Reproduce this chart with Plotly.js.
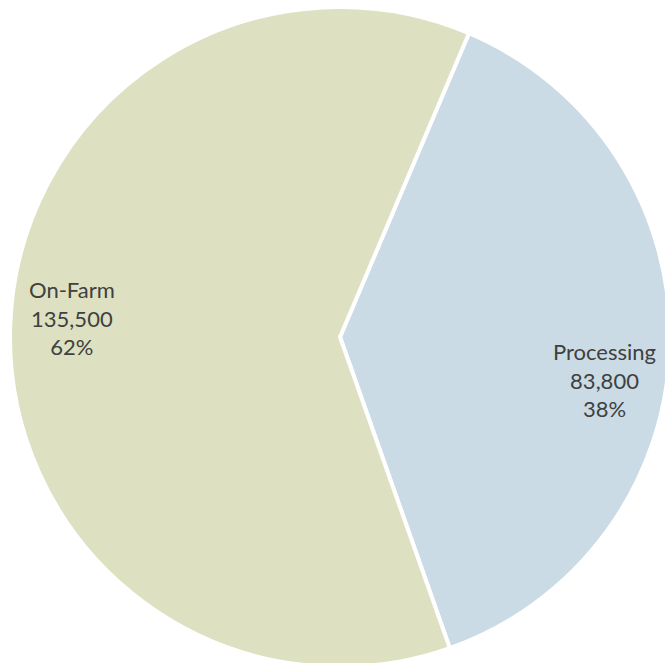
<!DOCTYPE html>
<html>
<head>
<meta charset="utf-8">
<script src="https://cdn.plot.ly/plotly-3.0.1.min.js"></script>
<style>html,body{margin:0;padding:0;background:#fff;overflow:hidden;}</style>
</head>
<body>
<div id="chart"></div>
<script>
const labels = ["Processing", "On-Farm"];
const values = [83800, 135500];
const colors = ["#CADBE5", "#DDE0C1"];
const labelPos = [[0.9, 0.4348], [0.0939, 0.5288]];

const total = values.reduce((a, b) => a + b, 0);
const fmt = v => v.toLocaleString("en-US");
const annotations = labels.map((l, i) => ({
  x: labelPos[i][0], y: labelPos[i][1], xref: "paper", yref: "paper",
  xanchor: "center", yanchor: "middle",
  showarrow: false, align: "center",
  text: l + "<br>" + fmt(values[i]) + "<br>" + Math.round(values[i] / total * 100) + "%",
  font: {family: "Lato, sans-serif", size: 22, color: "#404040"}
}));

Plotly.newPlot("chart", [{
  type: "pie",
  labels: labels,
  values: values,
  sort: false,
  direction: "clockwise",
  rotation: 23,
  textinfo: "none",
  hoverinfo: "none",
  marker: {colors: colors, line: {color: "#ffffff", width: 4}}
}], {
  width: 680, height: 674,
  margin: {l: 10, r: 10, t: 7, b: 7},
  showlegend: false,
  paper_bgcolor: "#ffffff",
  annotations: annotations
}, {displayModeBar: false, staticPlot: true});
</script>
</body>
</html>
